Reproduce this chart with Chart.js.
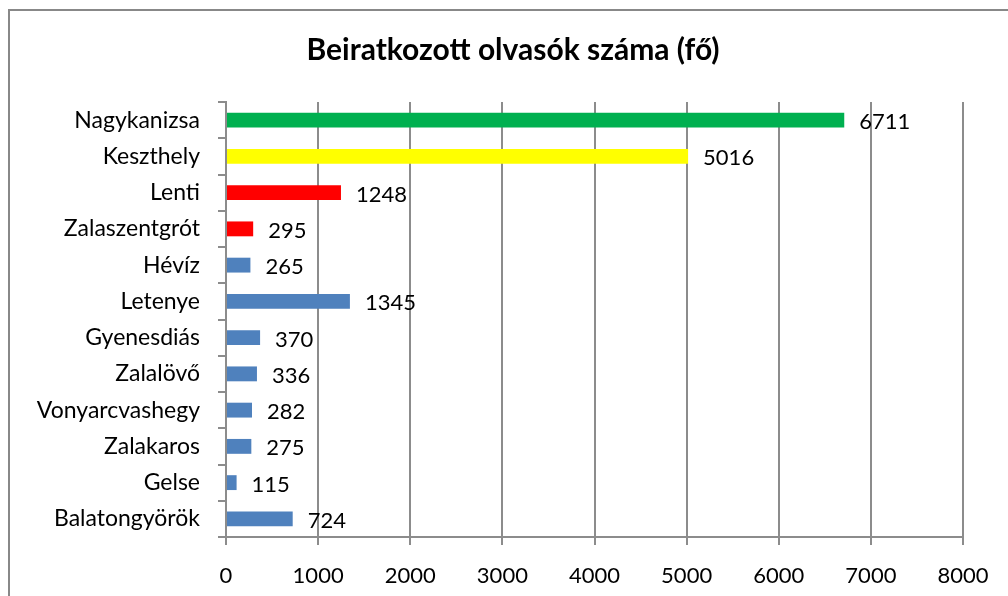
<!DOCTYPE html>
<html>
<head>
<meta charset="utf-8">
<script src="https://cdn.jsdelivr.net/npm/chart.js@4"></script>
<style>
  html, body { margin: 0; padding: 0; background: #fff; }
  #wrap { position: relative; width: 1008px; height: 596px; }
  #frame { position: absolute; left: 8px; top: 9px; width: 1010px; height: 600px; border: 2px solid #888; box-sizing: border-box; }
  canvas { position: absolute; left: 0; top: 0; }
</style>
</head>
<body>
<div id="wrap">
  <div id="frame"></div>
  <canvas id="chart" width="1008" height="596"></canvas>
</div>
<script>
const chartTitle = 'Beiratkozott olvasók száma (fő)';
const categories = ['Nagykanizsa', 'Keszthely', 'Lenti', 'Zalaszentgrót', 'Hévíz', 'Letenye',
  'Gyenesdiás', 'Zalalövő', 'Vonyarcvashegy', 'Zalakaros', 'Gelse', 'Balatongyörök'];
const readers = [6711, 5016, 1248, 295, 265, 1345, 370, 336, 282, 275, 115, 724];
const barColors = ['#00B050', '#FFFF00', '#FF0000', '#FF0000', '#4F81BD', '#4F81BD',
  '#4F81BD', '#4F81BD', '#4F81BD', '#4F81BD', '#4F81BD', '#4F81BD'];
const axisMax = 8000;
const axisStep = 1000;

const fontFamily = 'Lato, "Open Sans", sans-serif';
const gridColor = '#8c8c8c';

// value labels next to each bar
const valueLabels = {
  id: 'valueLabels',
  afterDatasetsDraw(chart) {
    const ctx = chart.ctx;
    const meta = chart.getDatasetMeta(0);
    ctx.save();
    ctx.font = '22px ' + fontFamily;
    ctx.fillStyle = '#000';
    ctx.textAlign = 'left';
    ctx.textBaseline = 'middle';
    meta.data.forEach((bar, i) => {
      ctx.fillText(String(readers[i]), bar.x + 15, bar.y + 2);
    });
    ctx.restore();
  }
};

// title centred on the whole frame, not on the padded layout
const frameTitle = {
  id: 'frameTitle',
  afterDraw(chart) {
    const ctx = chart.ctx;
    ctx.save();
    ctx.font = 'bold 30px ' + fontFamily;
    ctx.fillStyle = '#000';
    ctx.textAlign = 'center';
    ctx.textBaseline = 'middle';
    ctx.fillText(chartTitle, chart.width / 2 + 9, 50);
    ctx.restore();
  }
};

new Chart(document.getElementById('chart'), {
  type: 'bar',
  data: {
    labels: categories,
    datasets: [{
      data: readers,
      backgroundColor: barColors,
      borderWidth: 0,
      categoryPercentage: 1,
      barPercentage: 0.41
    }]
  },
  options: {
    indexAxis: 'y',
    responsive: false,
    animation: false,
    layout: { padding: { left: 0, right: 45, bottom: 0, top: 102 } },
    plugins: {
      legend: { display: false },
      tooltip: { enabled: false },
      title: { display: false }
    },
    scales: {
      x: {
        min: 0,
        max: axisMax,
        afterFit(scale) { scale.height = 59; },
        ticks: {
          stepSize: axisStep,
          color: '#000',
          padding: 18,
          font: { family: fontFamily, size: 22 },
          callback: (v) => String(v)
        },
        grid: { color: gridColor, lineWidth: 2, tickLength: 8 },
        border: { color: gridColor, width: 2 }
      },
      y: {
        afterFit(scale) { scale.width = 226; },
        ticks: {
          color: '#000',
          padding: 18,
          font: { family: fontFamily, size: 23 }
        },
        grid: { offset: true, drawOnChartArea: false, color: gridColor, lineWidth: 2, tickLength: 8 },
        border: { color: gridColor, width: 2 }
      }
    }
  },
  plugins: [valueLabels, frameTitle]
});
</script>
</body>
</html>
